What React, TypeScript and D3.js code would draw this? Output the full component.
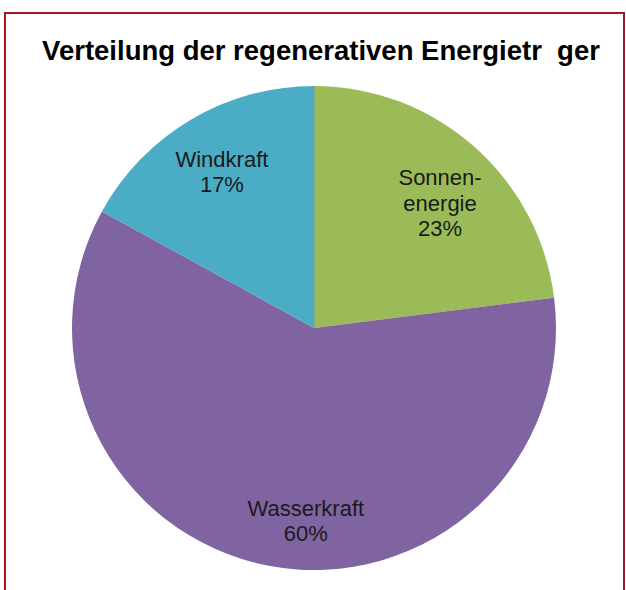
import React from "react";
import * as d3 from "d3";

const categories = ["Sonnen-\nenergie", "Wasserkraft", "Windkraft"];
const values = [23, 60, 17];
const colors = ["#9BBB59", "#8064A2", "#4BACC6"];
const title = "Verteilung der regenerativen Energietr\u00a0\u00a0ger";

const W = 626;
const H = 590;
const cx = 314;
const cy = 328;
const R = 242;
const labelR = 177;
const labelOffsets: [number, number][] = [
  [9, 8],
  [25, 19],
  [-2, -4],
];

export default function App() {
  const pie = d3.pie<number>().sort(null).value((d) => d);
  const arcs = pie(values);
  const arc = d3.arc<d3.PieArcDatum<number>>().innerRadius(0).outerRadius(R);
  const labelArc = d3
    .arc<d3.PieArcDatum<number>>()
    .innerRadius(labelR)
    .outerRadius(labelR);
  const fs = 22;
  const lh = 25.5;
  return (
    <svg
      width={W}
      height={H}
      style={{ position: "absolute", left: 0, top: 0, display: "block" }}
      fontFamily="'Liberation Sans', Arial, sans-serif"
    >
      <rect x={0} y={0} width={W} height={H} fill="#fff" />
      <rect
        x={5}
        y={13}
        width={619}
        height={620}
        fill="none"
        stroke="#A01A20"
        strokeWidth={2}
      />
      <text
        x={321}
        y={60}
        textAnchor="middle"
        fontSize={27.5}
        fontWeight="bold"
        fill="#000"
      >
        {title}
      </text>
      <g transform={`translate(${cx},${cy})`}>
        {arcs.map((a, i) => (
          <path key={i} d={arc(a) || ""} fill={colors[i]} />
        ))}
        <line x1={0} y1={0} x2={0} y2={-R} stroke="#8a93a6" strokeWidth={1} />
        {arcs.map((a, i) => {
          const [x, y] = labelArc.centroid(a);
          const lines = [...categories[i].split("\n"), `${values[i]}%`];
          const lx = x + labelOffsets[i][0];
          const ly = y + labelOffsets[i][1];
          const firstBase = ly - ((lines.length - 1) * lh) / 2 + fs * 0.35;
          return (
            <text
              key={i}
              textAnchor="middle"
              fontSize={fs}
              fill="#1a1a1a"
            >
              {lines.map((t, j) => (
                <tspan key={j} x={lx} y={firstBase + j * lh}>
                  {t}
                </tspan>
              ))}
            </text>
          );
        })}
      </g>
    </svg>
  );
}
